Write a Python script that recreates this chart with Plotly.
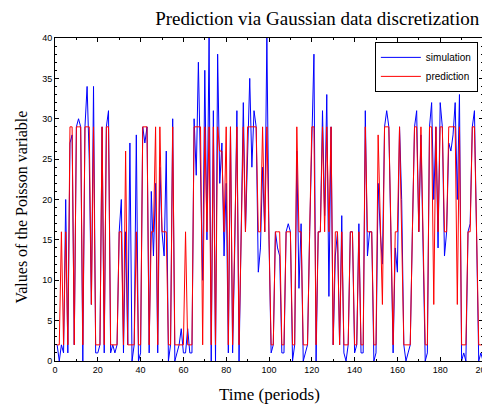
import plotly.graph_objects as go

periods = list(range(1, 201))

simulation = [
    2, 0, 2, 1, 20, 1, 27, 28, 2, 29, 30, 29, 0, 29, 34, 25, 7, 34, 1, 1,
    2, 29, 1, 29, 31, 1, 2, 1, 2, 16, 20, 1, 16, 2, 27, 0, 2, 28, 0, 1,
    29, 27, 29, 1, 21, 13, 22, 1, 24, 16, 13, 26, 0, 2, 30, 0, 1, 2, 4, 1,
    1, 4, 1, 1, 30, 23, 37, 25, 10, 36, 15, 40, 0, 31, 0, 38, 22, 27, 13, 22,
    1, 29, 1, 14, 31, 0, 16, 32, 16, 27, 35, 24, 31, 29, 11, 14, 24, 16, 40, 15,
    1, 2, 16, 14, 13, 1, 1, 16, 17, 16, 0, 2, 26, 9, 17, 0, 1, 2, 16, 29,
    38, 0, 16, 16, 31, 18, 33, 8, 29, 2, 13, 16, 2, 18, 1, 0, 2, 16, 16, 1,
    2, 17, 1, 1, 31, 13, 16, 16, 0, 1, 22, 16, 12, 29, 31, 29, 16, 1, 14, 11,
    29, 20, 2, 0, 1, 2, 16, 29, 31, 16, 28, 16, 0, 1, 29, 32, 20, 29, 14, 32,
    29, 13, 16, 27, 26, 28, 32, 20, 33, 0, 1, 0, 16, 17, 29, 31, 16, 0, 1, 0,
]

prediction = [
    2, 2, 16, 2, 16, 2, 29, 29, 2, 29, 29, 29, 2, 29, 29, 29, 7, 29, 2, 2,
    2, 29, 2, 29, 29, 2, 2, 2, 2, 16, 16, 2, 26, 2, 2, 2, 2, 16, 2, 2,
    29, 29, 29, 2, 16, 16, 29, 2, 29, 16, 16, 16, 2, 2, 29, 2, 2, 2, 2, 2,
    16, 2, 2, 2, 29, 29, 29, 29, 2, 29, 16, 29, 2, 29, 2, 29, 26, 26, 16, 29,
    2, 29, 2, 16, 29, 2, 16, 29, 16, 29, 29, 29, 29, 29, 16, 16, 29, 16, 29, 16,
    2, 2, 16, 16, 16, 2, 2, 16, 16, 16, 2, 2, 29, 16, 16, 2, 2, 2, 16, 29,
    29, 2, 16, 16, 29, 16, 29, 16, 29, 2, 16, 16, 2, 16, 2, 2, 2, 16, 16, 2,
    2, 16, 2, 2, 29, 16, 16, 16, 2, 2, 28, 16, 7, 29, 29, 29, 16, 2, 16, 16,
    29, 16, 2, 2, 2, 2, 16, 29, 29, 16, 29, 16, 2, 2, 29, 29, 7, 29, 16, 29,
    29, 16, 16, 29, 29, 29, 29, 7, 29, 2, 2, 2, 16, 16, 29, 29, 16, 2, 2, 2,
]

fig = go.Figure()
fig.add_trace(go.Scatter(x=periods, y=simulation, mode="lines", name="simulation",
                         line=dict(color="#0000ff", width=1)))
fig.add_trace(go.Scatter(x=periods, y=prediction, mode="lines", name="prediction",
                         line=dict(color="#ff0000", width=1)))

serif = "Liberation Serif"
sans = "Liberation Sans"

axis_common = dict(
    ticks="inside", ticklen=4, tickcolor="black", showline=True, linecolor="black",
    linewidth=1, mirror="allticks", showgrid=False, zeroline=False, automargin=False,
    tickfont=dict(family=sans, size=9, color="black"),
)

# the page body adds an 8px offset; margins compensate for it
fig.update_layout(
    width=490, height=405,
    margin=dict(l=47, r=15, t=30, b=52),
    paper_bgcolor="white", plot_bgcolor="white",
    title=dict(text="Prediction via Gaussian data discretization",
               font=dict(family=serif, size=19, color="black"),
               x=0.631, xanchor="center", y=0.975, yanchor="middle"),
    showlegend=True,
    legend=dict(x=0.988, y=0.988, xanchor="right", yanchor="top",
                bgcolor="white", bordercolor="black", borderwidth=1,
                font=dict(family=sans, size=10, color="black"),
                tracegroupgap=0, itemwidth=40),
    xaxis=dict(range=[0, 200], tick0=0, dtick=20,
               minor=dict(dtick=10, ticks="inside", ticklen=2, tickcolor="black", showgrid=False),
               **axis_common),
    yaxis=dict(range=[0, 40], tick0=0, dtick=5,
               minor=dict(dtick=1, ticks="inside", ticklen=2, tickcolor="black", showgrid=False),
               **axis_common),
    annotations=[
        dict(text="Time (periods)", xref="paper", yref="paper", x=0.5, y=-0.105,
             xanchor="center", yanchor="middle", showarrow=False,
             font=dict(family=serif, size=17, color="black")),
        dict(text="Values of the Poisson variable", xref="paper", yref="paper",
             x=-0.078, y=0.477, xanchor="center", yanchor="middle", showarrow=False,
             textangle=-90, font=dict(family=serif, size=16, color="black")),
    ],
)

fig.write_html("out.html")
